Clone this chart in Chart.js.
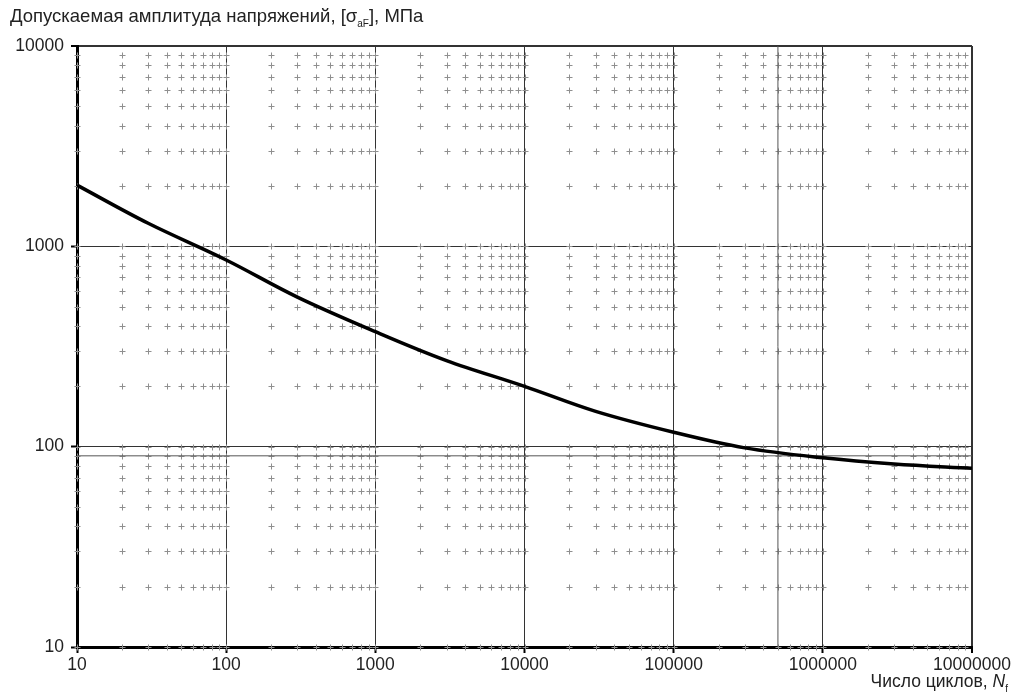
<!DOCTYPE html>
<html>
<head>
<meta charset="utf-8">
<script src="https://cdn.jsdelivr.net/npm/chart.js@4.4.1/dist/chart.umd.min.js"></script>
<style>
    body { margin: 0; background: #fff; }
    #wrap { position: relative; width: 1015px; height: 696px; }
    .lbl { position: absolute; font-family: "Liberation Sans", Arial, sans-serif; color: #222; white-space: nowrap; }
    #titleY { left: 10px; top: 5px; font-size: 18.5px; }
    #titleX { right: 7px; top: 671px; font-size: 17.5px; }
    sub { font-size: 10px; }
</style>
</head>
<body>
<div id="wrap">
    <canvas id="grafico" width="1015" height="696"></canvas>
    <div class="lbl" id="titleY">Допускаемая амплитуда напряжений, [σ<sub>aF</sub>], МПа</div>
    <div class="lbl" id="titleX">Число циклов, <i>N</i><sub>f</sub></div>
</div>
<script>
// Данные кривой (читаются с графика)
const ciclos = [10, 30, 100, 300, 1000, 3000, 10000, 30000, 100000, 300000, 1000000, 3000000, 10000000];
const amplitude = [2020, 1303, 855, 558, 375, 269, 200, 150, 118, 98.6, 88, 82, 78];

// Деления осей
const ticksX = [10, 100, 1000, 10000, 100000, 1000000, 10000000];
const ticksY = [10, 100, 1000, 10000];

// Вспомогательные линии
const linhaY = 90;
const linhaX = 500000;

// Маленькие крестики сетки на пересечениях второстепенных делений
const cruzes = {
    id: 'cruzes',
    beforeDatasetsDraw(chart) {
        const { ctx, scales: { x, y } } = chart;
        const xs = [], ys = [];
        for (let d = 10; d < 10000000; d *= 10) {
            for (let k = 1; k <= 9; k++) xs.push(d * k);
        }
        for (let d = 10; d < 10000; d *= 10) {
            for (let k = 1; k <= 9; k++) ys.push(d * k);
        }
        ctx.save();
        ctx.strokeStyle = '#8f8f8f';
        ctx.lineWidth = 1;
        ctx.beginPath();
        xs.forEach(vx => {
            const px = Math.round(x.getPixelForValue(vx)) + 0.5;
            ys.forEach(vy => {
                const py = Math.round(y.getPixelForValue(vy)) + 0.5;
                ctx.moveTo(px - 3, py);
                ctx.lineTo(px + 3, py);
                ctx.moveTo(px, py - 3);
                ctx.lineTo(px, py + 3);
            });
        });
        ctx.stroke();
        ctx.restore();
    }
};

const fonte = { family: '"Liberation Sans", Arial, sans-serif', size: 17.5 };

new Chart(document.getElementById('grafico'), {
    type: 'line',
    data: {
        datasets: [
            {
                data: ciclos.map((c, i) => ({ x: c, y: amplitude[i] })),
                borderColor: '#000',
                borderWidth: 3.5,
                pointRadius: 0,
                tension: 0.35,
                order: 0
            },
            {
                data: [{ x: 10, y: linhaY }, { x: 10000000, y: linhaY }],
                borderColor: '#555',
                borderWidth: 1,
                pointRadius: 0,
                order: 1
            },
            {
                data: [{ x: linhaX, y: 10 }, { x: linhaX, y: 10000 }],
                borderColor: '#555',
                borderWidth: 1,
                pointRadius: 0,
                order: 1
            }
        ]
    },
    options: {
        responsive: false,
        devicePixelRatio: 1,
        animation: false,
        layout: { padding: { top: 46, right: 43, left: 0, bottom: 0 } },
        plugins: {
            legend: { display: false },
            tooltip: { enabled: false }
        },
        scales: {
            x: {
                type: 'logarithmic',
                min: 10,
                max: 10000000,
                afterBuildTicks: s => { s.ticks = ticksX.map(v => ({ value: v })); },
                afterFit: s => { s.height = 49; },
                ticks: {
                    color: '#222',
                    font: fonte,
                    padding: 2,
                    maxRotation: 0,
                    autoSkip: false,
                    callback: v => String(v)
                },
                grid: {
                    color: '#333',
                    lineWidth: c => (c.tick && c.tick.value === 10000000 ? 2 : 1),
                    tickLength: 6,
                    tickColor: '#000',
                    tickWidth: 2
                },
                border: { color: '#000', width: 3 }
            },
            y: {
                type: 'logarithmic',
                min: 10,
                max: 10000,
                afterBuildTicks: s => { s.ticks = ticksY.map(v => ({ value: v })); },
                afterFit: s => { s.width = 77; },
                ticks: {
                    color: '#222',
                    font: fonte,
                    padding: 7,
                    autoSkip: false,
                    callback: v => String(v)
                },
                grid: {
                    color: '#333',
                    lineWidth: c => (c.tick && c.tick.value === 10000 ? 2 : 1),
                    tickLength: 6,
                    tickColor: '#000',
                    tickWidth: 2
                },
                border: { color: '#000', width: 3 }
            }
        }
    },
    plugins: [cruzes]
});
</script>
</body>
</html>
